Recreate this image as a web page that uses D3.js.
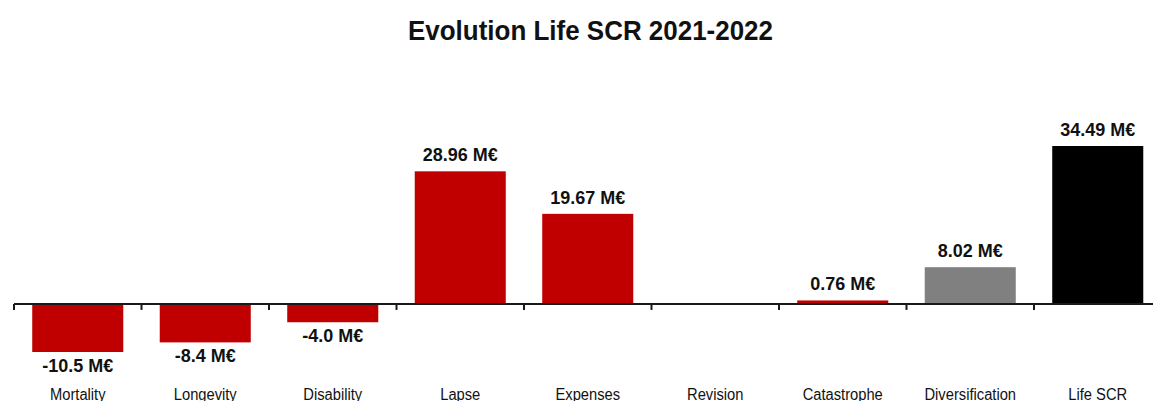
<!DOCTYPE html>
<html lang="en">
<head>
    <meta charset="utf-8">
    <title>Evolution Life SCR 2021-2022</title>
    <script src="https://d3js.org/d3.v7.min.js"></script>
<style>
    body { margin: 0; background: #fff; }
    #chart1 { width: 1153px; height: 401px; overflow: hidden; }
    text { font-family: "Liberation Sans", Arial, sans-serif; fill: #111; }
</style>
</head>
<body>
    <div id="chart1"></div>

<script>
    // data (M€)
    const categories = ["Mortality", "Longevity", "Disability", "Lapse", "Expenses", "Revision", "Catastrophe", "Diversification", "Life SCR"]
    const values = [-10.5, -8.4, -4.0, 28.96, 19.67, 0, 0.76, 8.02, 34.49]

    const scrApp = {}

    scrApp.barColor = (name) => {
        if (name === "Life SCR") return "#000000"
        if (name === "Diversification") return "#808080"
        return "#c00000"
    }

    scrApp.fmt = (v) => (v < 0 ? v.toFixed(1) : v.toFixed(2)) + " M€"

    scrApp.buildChart = () => {
        const width = 1153, height = 401

        const data = categories.map((c, i) => ({ name: c, value: values[i] }))

        const svg = d3.select("#chart1").append("svg")
            .attr("width", width)
            .attr("height", height)

        // title
        svg.append("text")
            .attr("x", 590.5)
            .attr("y", 40)
            .attr("text-anchor", "middle")
            .attr("textLength", 365)
            .attr("lengthAdjust", "spacingAndGlyphs")
            .style("font-size", "28px")
            .style("font-weight", "bold")
            .text("Evolution Life SCR 2021-2022")

        // x band: runs past the right edge like the original
        const x = d3.scaleBand()
            .domain(categories)
            .range([14, 14 + 127.5 * categories.length])
            .paddingInner(0.286)
            .paddingOuter(0.143)

        const y = d3.scaleLinear()
            .domain([d3.min(values), d3.max(values)])
            .range([352, 146])

        const zero = y(0)

        // bars
        svg.selectAll(".bar")
            .data(data.filter(d => d.value !== 0))
            .enter()
            .append("rect")
            .attr("class", "bar")
            .attr("x", d => x(d.name))
            .attr("width", x.bandwidth())
            .attr("y", d => Math.min(y(d.value), zero))
            .attr("height", d => Math.abs(y(d.value) - zero))
            .style("fill", d => scrApp.barColor(d.name))

        // axis line with ticks between categories
        const axis = svg.append("g")
            .attr("transform", "translate(0," + zero + ")")
        axis.append("line")
            .attr("x1", 14).attr("x2", width)
            .attr("stroke", "#1a1a1a")
            .attr("stroke-width", 2)
        axis.selectAll(".tick")
            .data(d3.range(categories.length + 1))
            .enter()
            .append("line")
            .attr("x1", i => 14 + i * x.step())
            .attr("x2", i => 14 + i * x.step())
            .attr("y1", 0).attr("y2", 6)
            .attr("stroke", "#1a1a1a")
            .attr("stroke-width", 2)

        // value labels
        svg.selectAll(".val")
            .data(data.filter(d => d.value !== 0))
            .enter()
            .append("text")
            .attr("class", "val")
            .attr("x", d => x(d.name) + x.bandwidth() / 2)
            .attr("y", d => d.value < 0 ? y(d.value) + 20 : y(d.value) - 10)
            .attr("text-anchor", "middle")
            .style("font-size", "18px")
            .style("font-weight", "bold")
            .text(d => scrApp.fmt(d.value))

        // category labels, cut at the bottom edge like the original
        svg.selectAll(".cat")
            .data(categories)
            .enter()
            .append("text")
            .attr("class", "cat")
            .attr("transform", d => "translate(" + (x(d) + x.bandwidth() / 2) + ",400) scale(0.92,1)")
            .attr("text-anchor", "middle")
            .style("font-size", "16px")
            .text(d => d)
    }

    scrApp.buildChart()
</script>
</body>
</html>
